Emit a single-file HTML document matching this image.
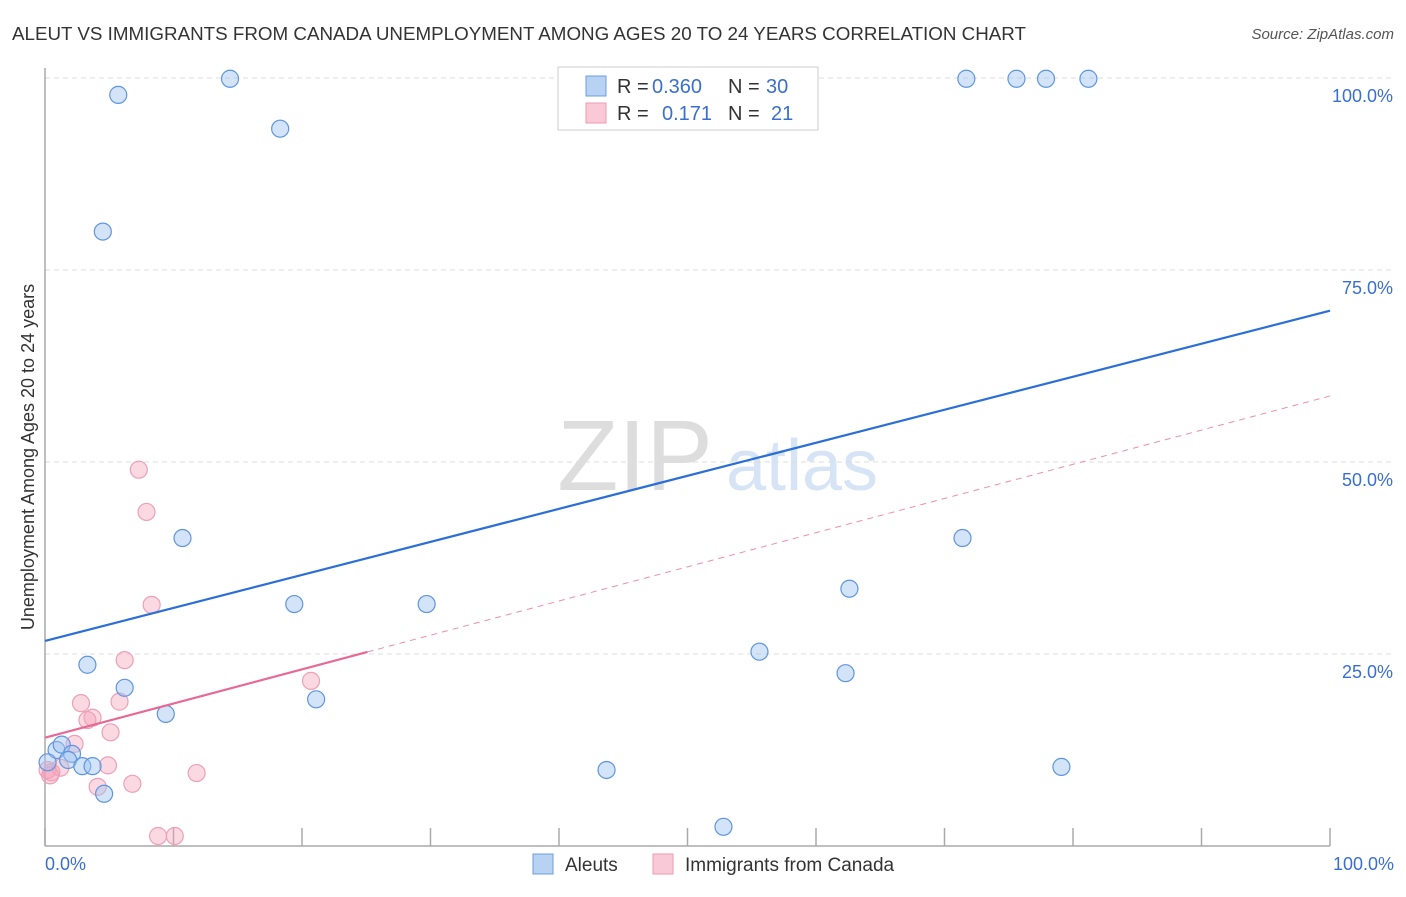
<!DOCTYPE html>
<html><head><meta charset="utf-8"><style>
body{margin:0;background:#fff;font-family:"Liberation Sans",sans-serif;}
svg text{font-family:"Liberation Sans",sans-serif;}
</style></head><body>
<svg id="chart" width="1406" height="892">
<text x="12" y="40" font-size="18" fill="#333" textLength="1014" lengthAdjust="spacingAndGlyphs">ALEUT VS IMMIGRANTS FROM CANADA UNEMPLOYMENT AMONG AGES 20 TO 24 YEARS CORRELATION CHART</text>
<text x="1394" y="39" font-size="15" fill="#555" font-style="italic" text-anchor="end">Source: ZipAtlas.com</text>
<text x="0" y="0" transform="translate(34,457) rotate(-90)" font-size="18" fill="#333" text-anchor="middle">Unemployment Among Ages 20 to 24 years</text>
<g><text x="635" y="490" font-size="100" fill="#ddd" font-family="Liberation Serif" text-anchor="middle">ZIP</text><text x="802" y="490" font-size="72" fill="#d6e4f5" text-anchor="middle">atlas</text></g>
<g id="grid"></g><g id="axes"></g><g id="marks"></g>
<g>
<rect x="558" y="67" width="260" height="63" fill="#fff" stroke="#ccc"/>
<rect x="586" y="76" width="20" height="20" fill="#b8d2f3" stroke="#6c9fe0"/>
<text x="617" y="93" font-size="20" fill="#333">R = </text><text x="652" y="93" font-size="20" fill="#3a6fd0">0.360</text>
<text x="728" y="93" font-size="20" fill="#333">N = </text><text x="766" y="93" font-size="20" fill="#3a6fd0">30</text>
<rect x="586" y="103" width="20" height="20" fill="#f9c9d7" stroke="#ee9ab3"/>
<text x="617" y="120" font-size="20" fill="#333">R = </text><text x="662" y="120" font-size="20" fill="#3a6fd0">0.171</text>
<text x="728" y="120" font-size="20" fill="#333">N = </text><text x="771" y="120" font-size="20" fill="#3a6fd0">21</text>
</g>
<g>
<rect x="533" y="854" width="20" height="20" fill="#b8d2f3" stroke="#6c9fe0"/>
<text x="565" y="871" font-size="19" fill="#333">Aleuts</text>
<rect x="653" y="854" width="20" height="20" fill="#f9c9d7" stroke="#ee9ab3"/>
<text x="685" y="871" font-size="19" fill="#333">Immigrants from Canada</text>
</g>
</svg>
<script>
const aleutX=[5.7,14.4,18.3,4.5,10.7,19.4,29.7,3.3,6.2,9.4,21.1,0.9,1.3,2.1,1.8,2.9,3.7,0.2,4.6,43.7,52.8,55.6,62.3,62.6,71.4,71.7,75.6,77.9,81.2,79.1];
const aleutY=[97.8,99.9,93.4,80,40.1,31.5,31.5,23.6,20.6,17.2,19.1,12.5,13.2,12,11.2,10.4,10.4,10.9,6.8,9.9,2.5,25.3,22.5,33.5,40.1,99.9,99.9,99.9,99.9,10.3];
const canX=[7.3,7.9,8.3,6.2,20.7,2.8,5.8,3.7,3.3,5.1,2.3,4.9,11.8,0.2,1.2,0.4,4.1,6.8,8.8,10.1,0.5];
const canY=[49,43.5,31.4,24.2,21.5,18.6,18.8,16.7,16.4,14.8,13.3,10.5,9.5,9.9,10.2,9.2,7.7,8.1,1.3,1.3,9.6];
const aleutTrend=[26.7,69.7];
const canTrend=[14.1,58.6];
const canSolidEnd=25.1;
const yTicks=[25,50,75,100];
const xTicks=[0,10,20,30,40,50,60,70,80,90,100];
const NS="http://www.w3.org/2000/svg";
const sx=v=>45+v*12.85, sy=v=>846-v*7.68;
function mk(tag,attrs,parent){const e=document.createElementNS(NS,tag);for(const k in attrs)e.setAttribute(k,attrs[k]);document.getElementById(parent).appendChild(e);return e;}
yTicks.forEach(t=>{
 const l=mk('line',{x1:45,x2:1394,y1:sy(t),y2:sy(t),stroke:'#ddd','stroke-dasharray':'5,4'},'grid');
 
 
 const tx=mk('text',{x:1393,y:sy(t)+24,'font-size':18,fill:'#3a6fd0','text-anchor':'end'},'grid');
 tx.textContent=t.toFixed(1)+'%';
 
 
});
const ax=mk('line',{x1:45,x2:45,y1:68,y2:846,stroke:'#aaa','stroke-width':1.5},'axes');


const bx=mk('line',{x1:45,x2:1330,y1:846,y2:846,stroke:'#aaa','stroke-width':1.5},'axes');


xTicks.forEach(t=>{
 const l=mk('line',{x1:sx(t),x2:sx(t),y1:828,y2:846,stroke:'#aaa','stroke-width':1.5},'axes');
 
 
});
[[0,'start',45],[100,'end',1394]].forEach(([v,a,x])=>{
 const tx=mk('text',{x:x,y:870,'font-size':18,fill:'#3a6fd0','text-anchor':a},'axes');
 tx.textContent=v.toFixed(1)+'%';
 
 
});
canX.forEach((x,i)=>{
 const c=mk('circle',{cx:sx(x),cy:sy(canY[i]),r:8.5,fill:'rgba(244,160,185,0.4)',stroke:'#eda0b8','stroke-width':1.2},'marks');
 
 
});
aleutX.forEach((x,i)=>{
 const c=mk('circle',{cx:sx(x),cy:sy(aleutY[i]),r:8.5,fill:'rgba(160,195,240,0.45)',stroke:'#5f95e0','stroke-width':1.2},'marks');
 
 
});
const lb=mk('line',{x1:sx(0),y1:sy(aleutTrend[0]),x2:sx(100),y2:sy(aleutTrend[1]),stroke:'#2b6fd6','stroke-width':2.2},'marks');


const canAt=v=>canTrend[0]+(canTrend[1]-canTrend[0])*v/100;
const ld=mk('line',{x1:sx(canSolidEnd),y1:sy(canAt(canSolidEnd)),x2:sx(100),y2:sy(canTrend[1]),stroke:'#eb8fac','stroke-width':1,'stroke-dasharray':'6,5'},'marks');


const lp=mk('line',{x1:sx(0),y1:sy(canTrend[0]),x2:sx(canSolidEnd),y2:sy(canAt(canSolidEnd)),stroke:'#e66a93','stroke-width':2.2},'marks');


</script>
</body></html>
